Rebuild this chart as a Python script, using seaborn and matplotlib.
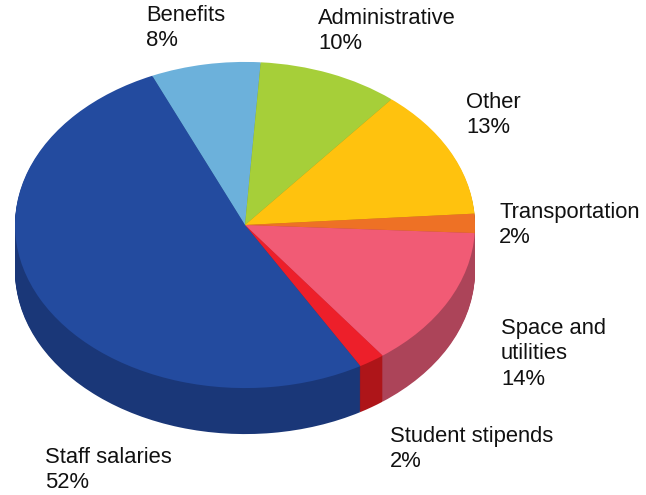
import matplotlib
matplotlib.use('Agg')
import matplotlib.pyplot as plt
import seaborn as sns

# slices, clockwise starting at the benefits wedge
categories = ['Benefits', 'Administrative', 'Other', 'Transportation',
              'Space and\nutilities', 'Student stipends', 'Staff salaries']
percent_labels = ['8%', '10%', '13%', '2%', '14%', '2%', '52%']
shares = [7.7, 9.9, 12.9, 1.9, 14.0, 1.85, 51.75]
top_colors = ['#6CB1DB', '#A6CF39', '#FFC20E', '#EE7125', '#F15B75', '#ED1F2A', '#234B9F']
side_colors = ['#4F83A3', '#7B992A', '#BD8F0A', '#B45218', '#AC4459', '#AE1519', '#1A3778']

# text anchors in image pixels (left, top)
label_x = [146, 318, 466, 499, 501, 390, 45]
label_y = [5, 8, 92, 202, 318, 426, 447]

W, H = 646, 495
cx, cy = 245, 225
radius = 230
squash = 0.709
depth = 46

sns.set_theme(style='white')
plt.rcParams['font.family'] = ['Liberation Sans', 'DejaVu Sans']

fig = plt.figure(figsize=(W / 100, H / 100), dpi=100)
ax = fig.add_axes([0, 0, 1, 1])

# side wall: same pie stacked downwards in the dark colours
for offset in range(depth, 0, -1):
    ax.pie(shares, colors=side_colors, startangle=113.8, counterclock=False,
           radius=radius, center=(cx, -offset / squash),
           wedgeprops={'linewidth': 0})
ax.pie(shares, colors=top_colors, startangle=113.8, counterclock=False,
       radius=radius, center=(cx, 0), wedgeprops={'linewidth': 0})

ax.set_xlim(0, W)
ax.set_ylim(-(H - cy) / squash, cy / squash)
ax.set_aspect('auto')
ax.axis('off')

for name, pct, x, y in zip(categories, percent_labels, label_x, label_y):
    fig.text(x / W, 1 - y / H, name + '\n' + pct, ha='left', va='top',
             fontsize=15.8, color='#111111', linespacing=1.28)

fig.savefig('out.png', dpi=100, facecolor='white')
